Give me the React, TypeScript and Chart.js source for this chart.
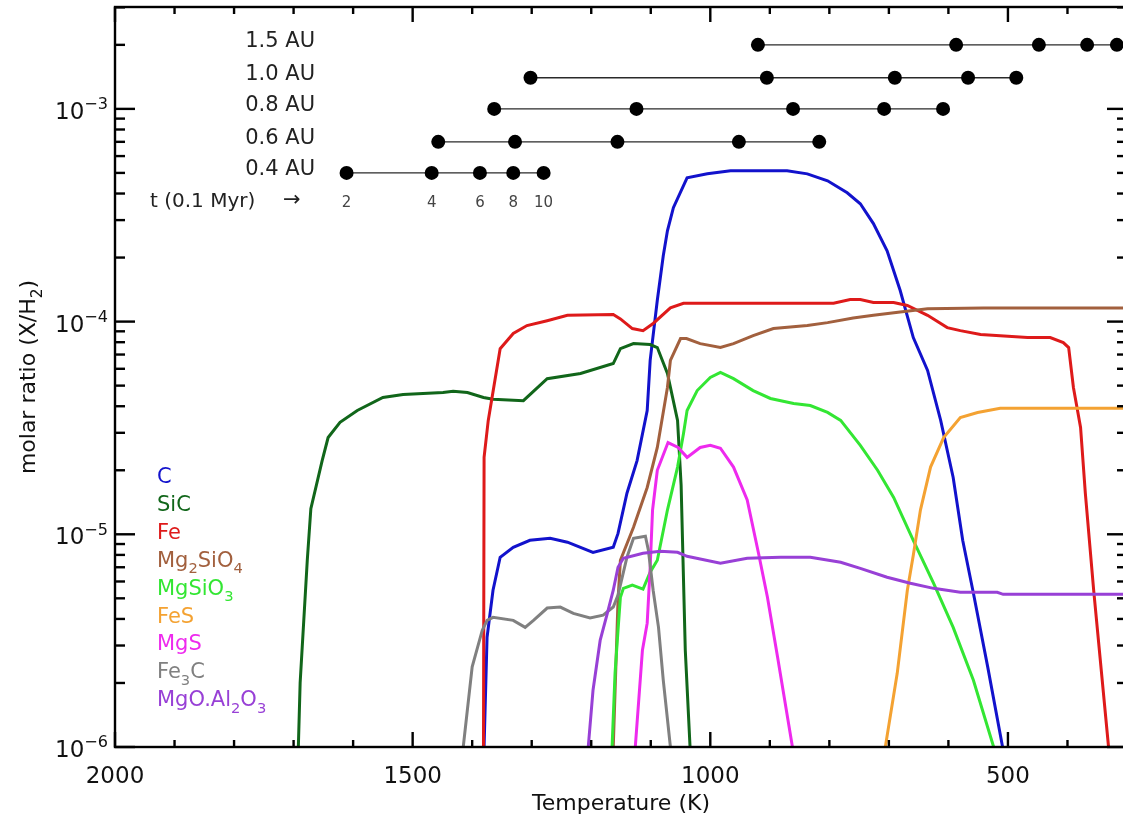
import React, { useEffect, useRef } from "react";
import { Chart, registerables } from "chart.js";

Chart.register(...registerables);

// ---- series (Temperature in K, molar ratio X/H2) ----
const seriesNames = ["C", "SiC", "Fe", "Mg_2SiO_4", "MgSiO_3", "FeS", "MgS", "Fe_3C", "MgO.Al_2O_3"];
const seriesColors = ["#1212cc", "#11661a", "#de1a1a", "#a2603e", "#33e633", "#f4a232", "#ee2aee", "#808080", "#9840d6"];

const cT = [1380, 1375, 1365, 1353, 1331, 1303, 1269, 1240, 1197, 1163, 1155, 1140, 1123, 1106, 1101, 1089, 1079, 1072, 1062, 1039, 1005, 966, 871, 837, 803, 770, 748, 726, 703, 681, 659, 635, 613, 592, 576, 558, 534, 509];
const cV = [1e-6, 3.28e-6, 5.46e-6, 7.8e-6, 8.69e-6, 9.37e-6, 9.57e-6, 9.18e-6, 8.22e-6, 8.69e-6, 1.01e-5, 1.56e-5, 2.22e-5, 3.82e-5, 6.57e-5, 1.26e-4, 2.04e-4, 2.67e-4, 3.43e-4, 4.74e-4, 4.95e-4, 5.12e-4, 5.12e-4, 4.95e-4, 4.59e-4, 4.03e-4, 3.58e-4, 2.89e-4, 2.15e-4, 1.4e-4, 8.41e-5, 5.89e-5, 3.43e-5, 1.85e-5, 9.37e-6, 5.28e-6, 2.38e-6, 1e-6];

const sicT = [1692, 1689, 1677, 1671, 1652, 1642, 1622, 1593, 1550, 1516, 1449, 1432, 1408, 1381, 1365, 1314, 1274, 1218, 1163, 1151, 1129, 1101, 1089, 1072, 1055, 1049, 1042, 1034];
const sicV = [1e-6, 2.0e-6, 7.55e-6, 1.32e-5, 2.22e-5, 2.85e-5, 3.36e-5, 3.82e-5, 4.4e-5, 4.54e-5, 4.64e-5, 4.7e-5, 4.64e-5, 4.4e-5, 4.31e-5, 4.25e-5, 5.39e-5, 5.7e-5, 6.35e-5, 7.46e-5, 7.88e-5, 7.8e-5, 7.55e-5, 5.7e-5, 3.43e-5, 1.7e-5, 2.85e-6, 1e-6];

const feT = [1381, 1380, 1373, 1353, 1331, 1308, 1274, 1240, 1163, 1151, 1131, 1113, 1096, 1067, 1045, 793, 765, 748, 726, 692, 669, 635, 602, 580, 546, 467, 429, 407, 398, 390, 378, 370, 356, 331];
const feV = [1e-6, 2.3e-5, 3.43e-5, 7.46e-5, 8.79e-5, 9.58e-5, 1.01e-4, 1.07e-4, 1.08e-4, 1.03e-4, 9.27e-5, 9.07e-5, 9.8e-5, 1.16e-4, 1.22e-4, 1.22e-4, 1.27e-4, 1.27e-4, 1.23e-4, 1.23e-4, 1.19e-4, 1.07e-4, 9.37e-5, 9.07e-5, 8.69e-5, 8.41e-5, 8.41e-5, 7.96e-5, 7.55e-5, 4.9e-5, 3.18e-5, 1.56e-5, 5.46e-6, 1e-6];

const fo_T = [1163, 1155, 1151, 1129, 1106, 1089, 1072, 1067, 1050, 1040, 1017, 983, 961, 928, 894, 837, 803, 760, 726, 681, 635, 541, 300];
const fo_V = [1e-6, 4.9e-6, 7.55e-6, 1.08e-5, 1.66e-5, 2.56e-5, 4.9e-5, 6.57e-5, 8.32e-5, 8.32e-5, 7.88e-5, 7.55e-5, 7.88e-5, 8.59e-5, 9.27e-5, 9.58e-5, 9.89e-5, 1.04e-4, 1.07e-4, 1.11e-4, 1.15e-4, 1.16e-4, 1.16e-4];

const enT = [1165, 1160, 1155, 1151, 1146, 1131, 1113, 1101, 1089, 1072, 1055, 1045, 1039, 1022, 1000, 983, 961, 928, 899, 860, 832, 803, 781, 748, 719, 692, 659, 625, 592, 558, 524];
const enV = [1e-6, 2.22e-6, 3.54e-6, 5.06e-6, 5.57e-6, 5.77e-6, 5.52e-6, 6.64e-6, 7.55e-6, 1.3e-5, 2.07e-5, 2.98e-5, 3.82e-5, 4.74e-5, 5.46e-5, 5.77e-5, 5.39e-5, 4.74e-5, 4.35e-5, 4.12e-5, 4.03e-5, 3.74e-5, 3.43e-5, 2.62e-5, 2.0e-5, 1.49e-5, 9.37e-6, 5.89e-6, 3.65e-6, 2.06e-6, 1e-6];

const fesT = [706, 686, 669, 659, 647, 630, 608, 580, 551, 513, 300];
const fesV = [1e-6, 2.22e-6, 5.46e-6, 7.96e-6, 1.3e-5, 2.07e-5, 2.85e-5, 3.54e-5, 3.74e-5, 3.91e-5, 3.91e-5];

const mgsT = [1126, 1114, 1106, 1101, 1097, 1089, 1071, 1054, 1039, 1017, 1000, 983, 961, 938, 919, 904, 887, 862];
const mgsV = [1e-6, 2.85e-6, 3.82e-6, 7.0e-6, 1.3e-5, 2.0e-5, 2.7e-5, 2.56e-5, 2.3e-5, 2.56e-5, 2.62e-5, 2.54e-5, 2.07e-5, 1.45e-5, 8.14e-6, 5.06e-6, 2.65e-6, 1e-6];

const fe3cT = [1415, 1400, 1383, 1375, 1365, 1331, 1311, 1297, 1274, 1252, 1230, 1202, 1180, 1163, 1155, 1140, 1129, 1109, 1104, 1096, 1087, 1079, 1067];
const fe3cV = [1e-6, 2.38e-6, 3.54e-6, 3.94e-6, 4.07e-6, 3.94e-6, 3.65e-6, 3.94e-6, 4.5e-6, 4.55e-6, 4.25e-6, 4.04e-6, 4.17e-6, 4.55e-6, 5.18e-6, 7.8e-6, 9.57e-6, 9.8e-6, 8.41e-6, 5.46e-6, 3.65e-6, 2.06e-6, 1e-6];

const spT = [1205, 1197, 1185, 1173, 1163, 1155, 1146, 1113, 1084, 1055, 1039, 983, 938, 882, 832, 781, 748, 703, 664, 625, 580, 518, 508, 300];
const spV = [1e-6, 1.85e-6, 3.17e-6, 4.25e-6, 5.46e-6, 7.0e-6, 7.71e-6, 8.14e-6, 8.32e-6, 8.23e-6, 7.88e-6, 7.31e-6, 7.71e-6, 7.8e-6, 7.8e-6, 7.39e-6, 6.92e-6, 6.28e-6, 5.89e-6, 5.57e-6, 5.34e-6, 5.34e-6, 5.22e-6, 5.22e-6];

const seriesT = [cT, sicT, feT, fo_T, enT, fesT, mgsT, fe3cT, spT];
const seriesV = [cV, sicV, feV, fo_V, enV, fesV, mgsV, fe3cV, spV];

// ---- time / distance markers ----
const auLabels = ["1.5 AU", "1.0 AU", "0.8 AU", "0.6 AU", "0.4 AU"];
const auLevels = [2.0e-3, 1.4e-3, 1.0e-3, 7.0e-4, 5.0e-4];
const au15 = [920, 587, 448, 367, 317];
const au10 = [1302, 905, 690, 567, 486];
const au08 = [1363, 1124, 861, 708, 609];
const au06 = [1457, 1328, 1156, 952, 817];
const au04 = [1611, 1468, 1387, 1331, 1280];
const auTemps = [au15, au10, au08, au06, au04];
const timeLabels = ["2", "4", "6", "8", "10"];
const timeCaption = "t (0.1 Myr)";

// ---- axes ----
const xMin = 300;
const xMax = 2000;
const yMin = 1e-6;
const yMax = 3.013e-3;
const xTickLabels = [2000, 1500, 1000, 500];
const yTickExps = [-6, -5, -4, -3];
const xTitle = "Temperature (K)";
const yTitle = "molar ratio (X/H_2)";

const FONT = "'DejaVu Sans', sans-serif";
const CW = 1140;
const CH = 818;

function parseRich(s: string): [string, number][] {
  const out: [string, number][] = [];
  let buf = "";
  for (let i = 0; i < s.length; i++) {
    if (s[i] === "_" && i + 1 < s.length) {
      if (buf) out.push([buf, 0]);
      buf = "";
      out.push([s[i + 1], 1]);
      i++;
    } else buf += s[i];
  }
  if (buf) out.push([buf, 0]);
  return out;
}

function drawRich(ctx: CanvasRenderingContext2D, segs: [string, number][], x: number, y: number, size: number, align: string) {
  const subSize = size * 0.7;
  let w = 0;
  for (const [t, k] of segs) {
    ctx.font = `${k ? subSize : size}px ${FONT}`;
    w += ctx.measureText(t).width;
  }
  let cx = align === "right" ? x - w : align === "center" ? x - w / 2 : x;
  ctx.textAlign = "left";
  for (const [t, k] of segs) {
    ctx.font = `${k ? subSize : size}px ${FONT}`;
    const dy = k === 1 ? size * 0.3 : k === 2 ? -size * 0.42 : 0;
    ctx.fillText(t, cx, y + dy);
    cx += ctx.measureText(t).width;
  }
}

const framePlugin = {
  id: "frame",
  afterDraw(chart: any) {
    const ctx: CanvasRenderingContext2D = chart.ctx;
    const { left, right, top, bottom } = chart.chartArea;
    const xs = chart.scales.x;
    const ys = chart.scales.y;
    ctx.save();
    ctx.strokeStyle = "#000";
    ctx.lineWidth = 2.4;
    ctx.lineCap = "butt";
    ctx.strokeRect(left, top, right - left, bottom - top);
    const seg = (x1: number, y1: number, x2: number, y2: number) => {
      ctx.beginPath();
      ctx.moveTo(x1, y1);
      ctx.lineTo(x2, y2);
      ctx.stroke();
    };
    // x ticks
    for (let t = xMin; t <= xMax; t += 100) {
      const px = xs.getPixelForValue(t);
      const len = t % 500 === 0 ? 15 : 7;
      seg(px, bottom, px, bottom - len);
      seg(px, top, px, top + len);
    }
    // y ticks
    for (let e = -6; e <= -3; e++) {
      for (let m = 1; m <= 9; m++) {
        const v = m * Math.pow(10, e);
        if (v > yMax * 0.999) continue;
        const py = ys.getPixelForValue(v);
        const len = m === 1 ? 20 : 10;
        seg(left, py, left + len, py);
        seg(right, py, right - len, py);
      }
    }
    // tick labels
    ctx.fillStyle = "#111";
    ctx.textBaseline = "alphabetic";
    for (const t of xTickLabels) {
      const px = xs.getPixelForValue(t);
      drawRich(ctx, [[String(t), 0]], px, bottom + 36, 23, "center");
    }
    for (const e of yTickExps) {
      const py = ys.getPixelForValue(Math.pow(10, e));
      drawRich(ctx, [["10", 0], ["\u2212" + String(-e), 2]], left - 7, py + 10, 23, "right");
    }
    // axis titles
    drawRich(ctx, parseRich(xTitle), (left + right) / 2, 810, 22, "center");
    ctx.save();
    ctx.translate(35, (top + bottom) / 2);
    ctx.rotate(-Math.PI / 2);
    drawRich(ctx, parseRich(yTitle), 0, 0, 22, "center");
    ctx.restore();
    // legend (colored names)
    seriesNames.forEach((n, i) => {
      ctx.fillStyle = seriesColors[i];
      drawRich(ctx, parseRich(n), 157, 483 + i * 27.9, 21, "left");
    });
    // AU labels
    ctx.fillStyle = "#222";
    auLabels.forEach((l, i) => {
      const py = ys.getPixelForValue(auLevels[i]);
      drawRich(ctx, [[l, 0]], 315, py + 2, 21, "right");
    });
    // time caption
    const rowY = ys.getPixelForValue(auLevels[4]);
    drawRich(ctx, [[timeCaption, 0]], 150, rowY + 34, 20, "left");
    drawRich(ctx, [["\u2192", 0]], 283, rowY + 33, 21, "left");
    ctx.fillStyle = "#444";
    timeLabels.forEach((l, i) => {
      const px = xs.getPixelForValue(au04[i]);
      drawRich(ctx, [[l, 0]], px, rowY + 34, 15, "center");
    });
    ctx.restore();
  },
};

export default function App() {
  const ref = useRef<HTMLCanvasElement | null>(null);
  useEffect(() => {
    if (!ref.current) return;
    const N = seriesNames.length;
    const curveSets = seriesNames.map((n, i) => ({
      label: n.replace(/_/g, ""),
      data: seriesT[i].map((t, j) => ({ x: t, y: seriesV[i][j] })),
      borderColor: seriesColors[i],
      backgroundColor: seriesColors[i],
      borderWidth: 3,
      pointRadius: 0,
      tension: 0,
      fill: false,
      order: N - i + 1,
    }));
    const auSets = auLabels.map((l, i) => ({
      label: l,
      data: auTemps[i].map((t) => ({ x: t, y: auLevels[i] })),
      borderColor: "#2a2a2a",
      borderWidth: 1.4,
      pointRadius: 7,
      pointBackgroundColor: "#000",
      pointBorderColor: "#000",
      pointBorderWidth: 0,
      tension: 0,
      fill: false,
      order: 0,
    }));
    const chart = new Chart(ref.current, {
      type: "line",
      data: { datasets: [...curveSets, ...auSets] as any },
      options: {
        responsive: false,
        animation: false,
        devicePixelRatio: 1,
        layout: { padding: { left: 115, top: 6, right: CW - 1127, bottom: CH - 747 } },
        scales: {
          x: { type: "linear", reverse: true, min: xMin, max: xMax, display: false },
          y: { type: "logarithmic", min: yMin, max: yMax, display: false },
        },
        plugins: { legend: { display: false }, tooltip: { enabled: false } },
        events: [],
      },
      plugins: [framePlugin as any],
    });
    return () => chart.destroy();
  }, []);
  return (
    <div style={{ position: "fixed", left: 0, top: 0, width: 1123, height: 818, overflow: "hidden", background: "#fff" }}>
      <canvas ref={ref} width={CW} height={CH} style={{ display: "block", width: CW, height: CH }} />
    </div>
  );
}
